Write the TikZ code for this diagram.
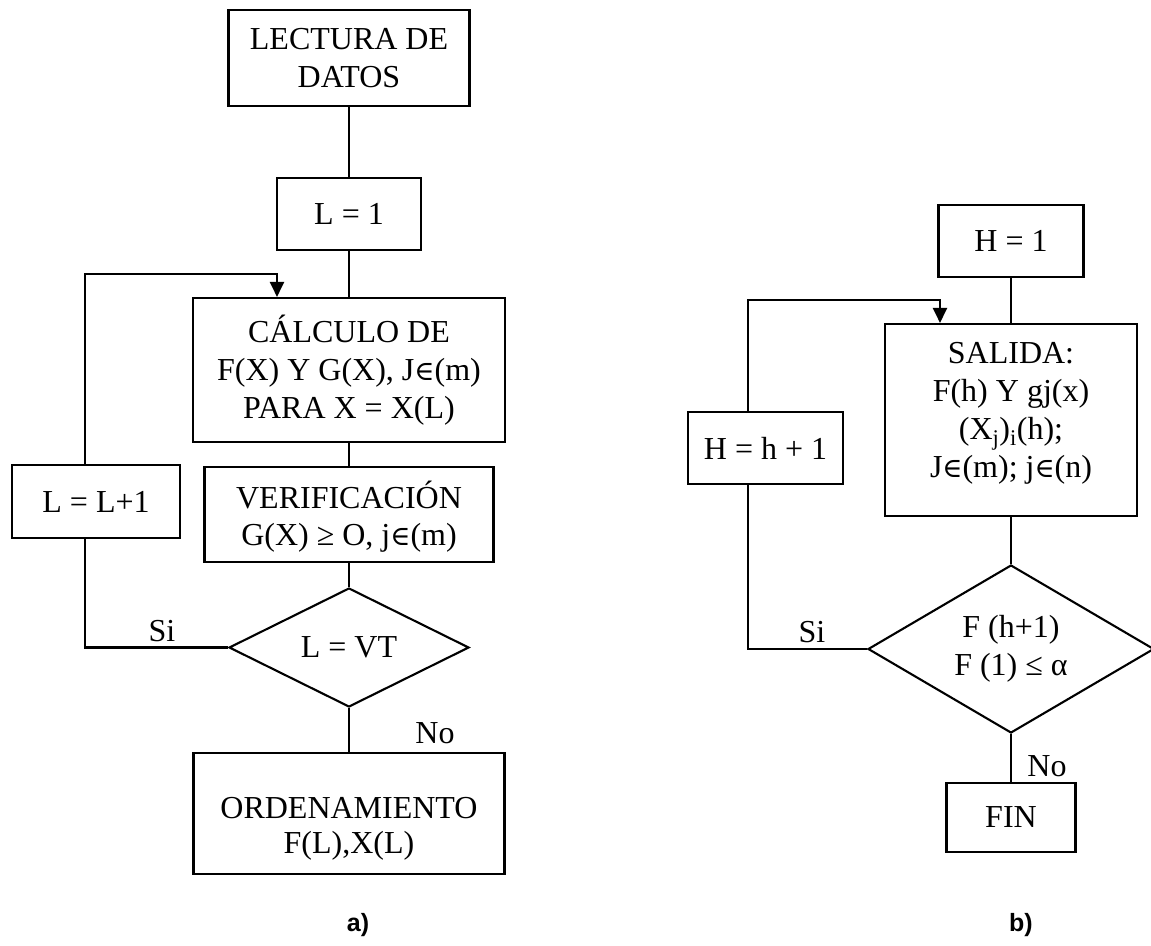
\documentclass[tikz,border=0pt]{standalone}
\usepackage{fontspec}
\setmainfont{Liberation Serif}
\newfontfamily\labfont{Liberation Sans}
\newfontfamily\dvsym{DejaVu Serif}[Scale=0.85]
\newcommand\elem{{\dvsym ∈}}
\usetikzlibrary{shapes.geometric,arrows.meta,calc}
\begin{document}
\begin{tikzpicture}[x=1pt,y=-1pt,line width=2.1pt,
  every node/.style={font=\fontsize{32}{38}\selectfont},
  box/.style={draw,rectangle,inner sep=0pt,align=center,fill=white},
  txt/.style={inner sep=0pt,align=center},
  dia/.style={draw,shape=diamond,inner sep=0pt,align=center,aspect=1.8},
  lbl/.style={inner sep=0pt},
  figcap/.style={inner sep=0pt,font=\labfont\bfseries\fontsize{25}{30}\selectfont},
  arr/.style={-{Triangle[length=15pt,width=14pt]}}]
\useasboundingbox (0,0) rectangle (1151,945);
% ---------- a) ----------
\node[box,minimum width=241pt,minimum height=96pt] (lect) at (349,58) {LECTURA DE\\DATOS};
\node[box,minimum width=144pt,minimum height=72pt] (l1) at (349,214) {L = 1};
\node[box,minimum width=312pt,minimum height=144pt] (calc) at (349,370) {CÁLCULO DE\\F(X) Y G(X), J\elem(m)\\PARA X = X(L)};
\node[box,minimum width=289pt,minimum height=95pt] (verif) at (349,514.5) {};
\node[txt,anchor=base,font=\fontsize{32}{37}\selectfont] (veriftxt) at (349,545) {VERIFICACIÓN\\G(X) ≥ O, j\elem(m)};
\node[dia,minimum width=240pt,minimum height=119pt] (d1) at (349,647.5) {L = VT};
\node[box,minimum width=311pt,minimum height=121pt] (ord) at (349,813.5) {};
\node[txt,anchor=base,font=\fontsize{32}{35}\selectfont] (ordtxt) at (349,853) {ORDENAMIENTO\\F(L),X(L)};
\node[box,minimum width=168pt,minimum height=73pt] (lp1) at (96,501.5) {L = L+1};
\node[lbl,anchor=base] (si1) at (162,641) {Si};
\node[lbl,anchor=base] (no1) at (435,743) {No};
\node[figcap] (capa) at (358,925) {a)};
\coordinate (lx) at (85,274);
\coordinate (ax) at (277,274);
\draw (lect) -- (l1);
\draw (l1) -- (calc);
\draw (calc) -- (verif);
\draw (verif) -- (d1);
\draw (d1) -- (ord);
\draw (d1.west) -| (lp1.south -| lx);
\draw[arr] (lp1.north -| lx) -- (lx) -- (ax) -- (ax |- calc.north);
% ---------- b) ----------
\node[box,minimum width=145pt,minimum height=72pt] (h1) at (1011,241) {H = 1};
\node[box,minimum width=252pt,minimum height=192pt] (sal) at (1011,420) {};
\node[txt,anchor=base] (saltxt) at (1011,477) {SALIDA:\\F(h) Y gj(x)\\(X\textsubscript{j})\textsubscript{i}(h);\\J\elem(m); j\elem(n)};
\node[dia,minimum width=286pt,minimum height=168pt] (d2) at (1011,649) {F (h+1)\\F (1) ≤ α};
\node[box,minimum width=129pt,minimum height=69pt] (fin) at (1011,817.5) {FIN};
\node[box,minimum width=155pt,minimum height=72pt] (hp1) at (765.5,448) {H = h + 1};
\node[lbl,anchor=base] (si2) at (812,642) {Si};
\node[lbl,anchor=base] (no2) at (1047,776) {No};
\node[figcap] (capb) at (1021,925) {b)};
\coordinate (rx) at (748,300);
\coordinate (bx) at (940,300);
\draw (h1) -- (sal);
\draw (sal) -- (d2);
\draw (d2) -- (fin);
\draw (d2.west) -| (hp1.south -| rx);
\draw[arr] (hp1.north -| rx) -- (rx) -- (bx) -- (bx |- sal.north);
\end{tikzpicture}
\end{document}
